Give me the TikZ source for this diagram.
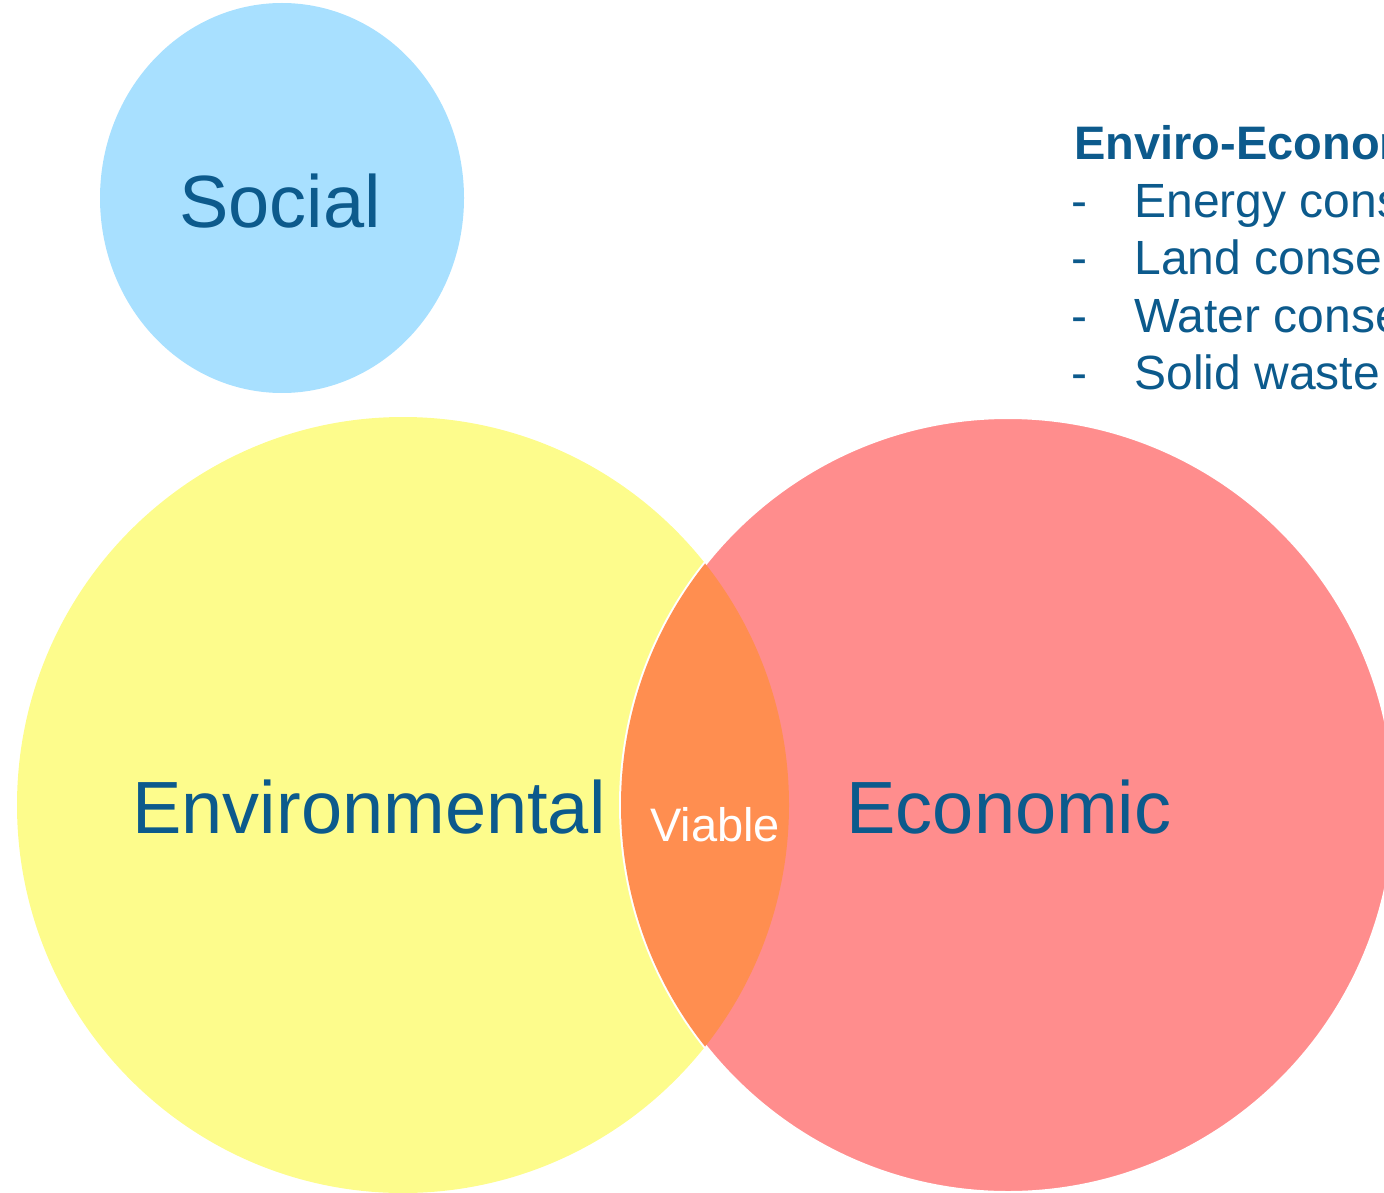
\documentclass[tikz,border=0pt]{standalone}
\usepackage{fontspec}
\setmainfont{Liberation Sans}
\definecolor{textBlue}{RGB}{12,90,140}
\definecolor{socialBlue}{RGB}{168,224,255}
\definecolor{enviroYellow}{RGB}{253,252,140}
\definecolor{econPink}{RGB}{255,141,141}
\definecolor{viableOrange}{RGB}{255,142,80}
\tikzset{%
  % Specifications for style of text nodes:
        bigLabel/.style = {inner sep=0pt, anchor=base, text=textBlue,
                           font=\fontsize{37}{44}\selectfont},
     viableLabel/.style = {inner sep=0pt, anchor=base, text=white,
                           font=\fontsize{23.5}{28}\selectfont},
        listItem/.style = {inner sep=0pt, anchor=base west, text=textBlue,
                           font=\fontsize{24}{28}\selectfont},
}

\begin{document}
\begin{tikzpicture}[x=0.5pt, y=-0.5pt]
  \useasboundingbox (0,0) rectangle (1384,1192);
  \clip (0,0) rectangle (1384,1192);

  % Specification of the circles
  \fill[socialBlue]   (282,198)  ellipse [x radius=182, y radius=195];
  \fill[enviroYellow] (403,805)  ellipse [x radius=386, y radius=388];
  \filldraw[fill=econPink, draw=white, line width=2]
                      (1008,805) ellipse [x radius=387, y radius=388];
  \begin{scope}
    \clip (403,805) ellipse [x radius=386, y radius=388];
    \fill[viableOrange] (1008,805) ellipse [x radius=387, y radius=388];
  \end{scope}

  % Specification of labels
  \node (social)        [bigLabel]    at (280,228)  {Social};
  \node (environmental) [bigLabel]    at (369,833)  {Environmental};
  \node (economic)      [bigLabel]    at (1009,833) {Economic};
  \node (viable)        [viableLabel] at (715,841)  {Viable};

  % Specification of the list
  \node (listHead) [listItem, font=\fontsize{23.5}{28}\selectfont\bfseries]
        at (1074,160) {Enviro-Economic};
  \foreach \txt [count=\i] in {Energy conservation, Land conservation,
                               Water conservation, Solid waste} {
    \node (dash\i) [listItem] at (1071,161+57*\i) {-};
    \node (item\i) [listItem] at (1134,161+57*\i) {\txt};
  }
\end{tikzpicture}
\end{document}
